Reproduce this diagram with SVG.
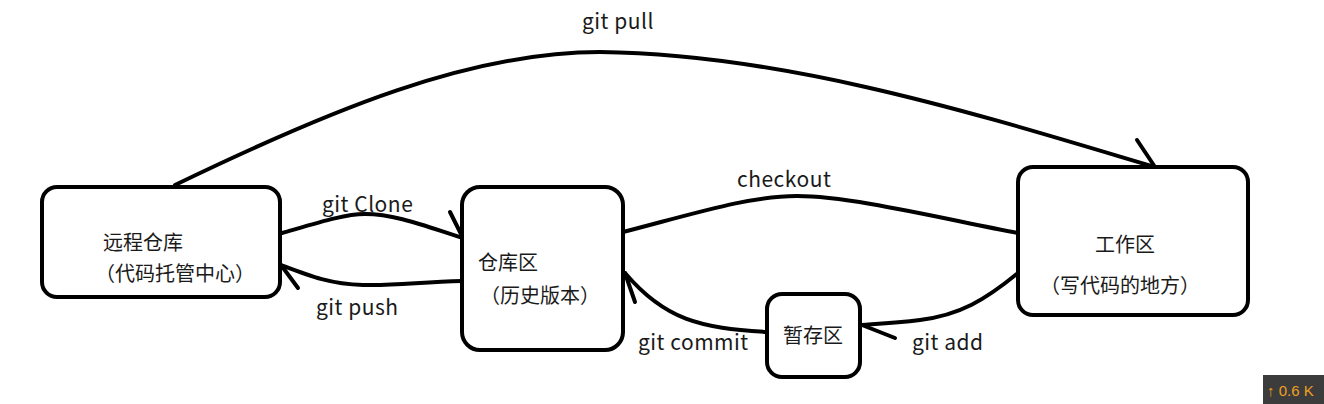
<svg xmlns="http://www.w3.org/2000/svg" width="1324" height="404" viewBox="0 0 1324 404">
<style>
.box{fill:#fff;stroke:#000;stroke-width:4}
.ln{fill:none;stroke:#000;stroke-width:4;stroke-linecap:round;stroke-linejoin:round}
.t{font-family:"Noto Sans CJK SC","Noto Sans",sans-serif;font-size:20px;fill:#1a1a1a}
.lb{font-family:"Noto Sans CJK SC","Noto Sans",sans-serif;font-size:21px;letter-spacing:0.5px;fill:#1a1a1a}
</style>
<rect width="1324" height="404" fill="#fff"/>
<g id="connectors">
  <g id="git-pull">
    <path class="ln" d="M175,185 C330,110 470,52 600,52 C790,54 990,118 1155,167"/>
    <path class="ln" d="M1137,140 L1155,167"/>
    <text class="lb" x="582" y="29">git pull</text>
  </g>
  <g id="git-clone">
    <path class="ln" d="M282,233 C320,222 345,214 365,214 C395,214 425,226 463,238"/>
    <path class="ln" d="M450,212 L463,238"/>
    <text class="lb" x="322" y="212">git Clone</text>
  </g>
  <g id="git-push">
    <path class="ln" d="M462,281 C420,282 395,286 363,285 C330,284 310,276 281,265"/>
    <path class="ln" d="M298,288 L281,265"/>
    <text class="lb" x="316" y="315">git push</text>
  </g>
  <g id="checkout">
    <path class="ln" d="M623,232 C700,212 750,196 797,196 C850,196 940,218 1018,233"/>
    <text class="lb" x="737" y="187">checkout</text>
  </g>
  <g id="git-commit">
    <path class="ln" d="M767,332 C700,328 665,320 625,273"/>
    <path class="ln" d="M635,302 L625,273"/>
    <text class="lb" x="638" y="350">git commit</text>
  </g>
  <g id="git-add">
    <path class="ln" d="M1018,273 C985,300 960,315 920,320 C895,323 875,324 862,325"/>
    <path class="ln" d="M895,338 L862,325"/>
    <text class="lb" x="912" y="350">git add</text>
  </g>
</g>
<g id="remote">
  <rect class="box" x="42" y="187" width="238" height="110" rx="15"/>
  <text class="t" x="103" y="250">远程仓库</text>
  <text class="t" x="95" y="281">（代码托管中心）</text>
</g>
<g id="repo">
  <rect class="box" x="462" y="187" width="161" height="163" rx="18"/>
  <text class="t" x="478" y="270">仓库区</text>
  <text class="t" x="480" y="303">（历史版本）</text>
</g>
<g id="workspace">
  <rect class="box" x="1018" y="167" width="230" height="148" rx="15"/>
  <text class="t" x="1095" y="252">工作区</text>
  <text class="t" x="1040" y="293">（写代码的地方）</text>
</g>
<g id="stage">
  <rect class="box" x="767" y="294" width="93" height="83" rx="15"/>
  <text class="t" x="783" y="343">暂存区</text>
</g>
<g id="badge">
  <rect x="1263" y="375" width="61" height="29" fill="#3c3c3c"/>
  <text x="1267" y="396" style="font-family:'Liberation Sans',sans-serif;font-size:15px;fill:#f0a020">↑ 0.6 K</text>
</g>
</svg>
